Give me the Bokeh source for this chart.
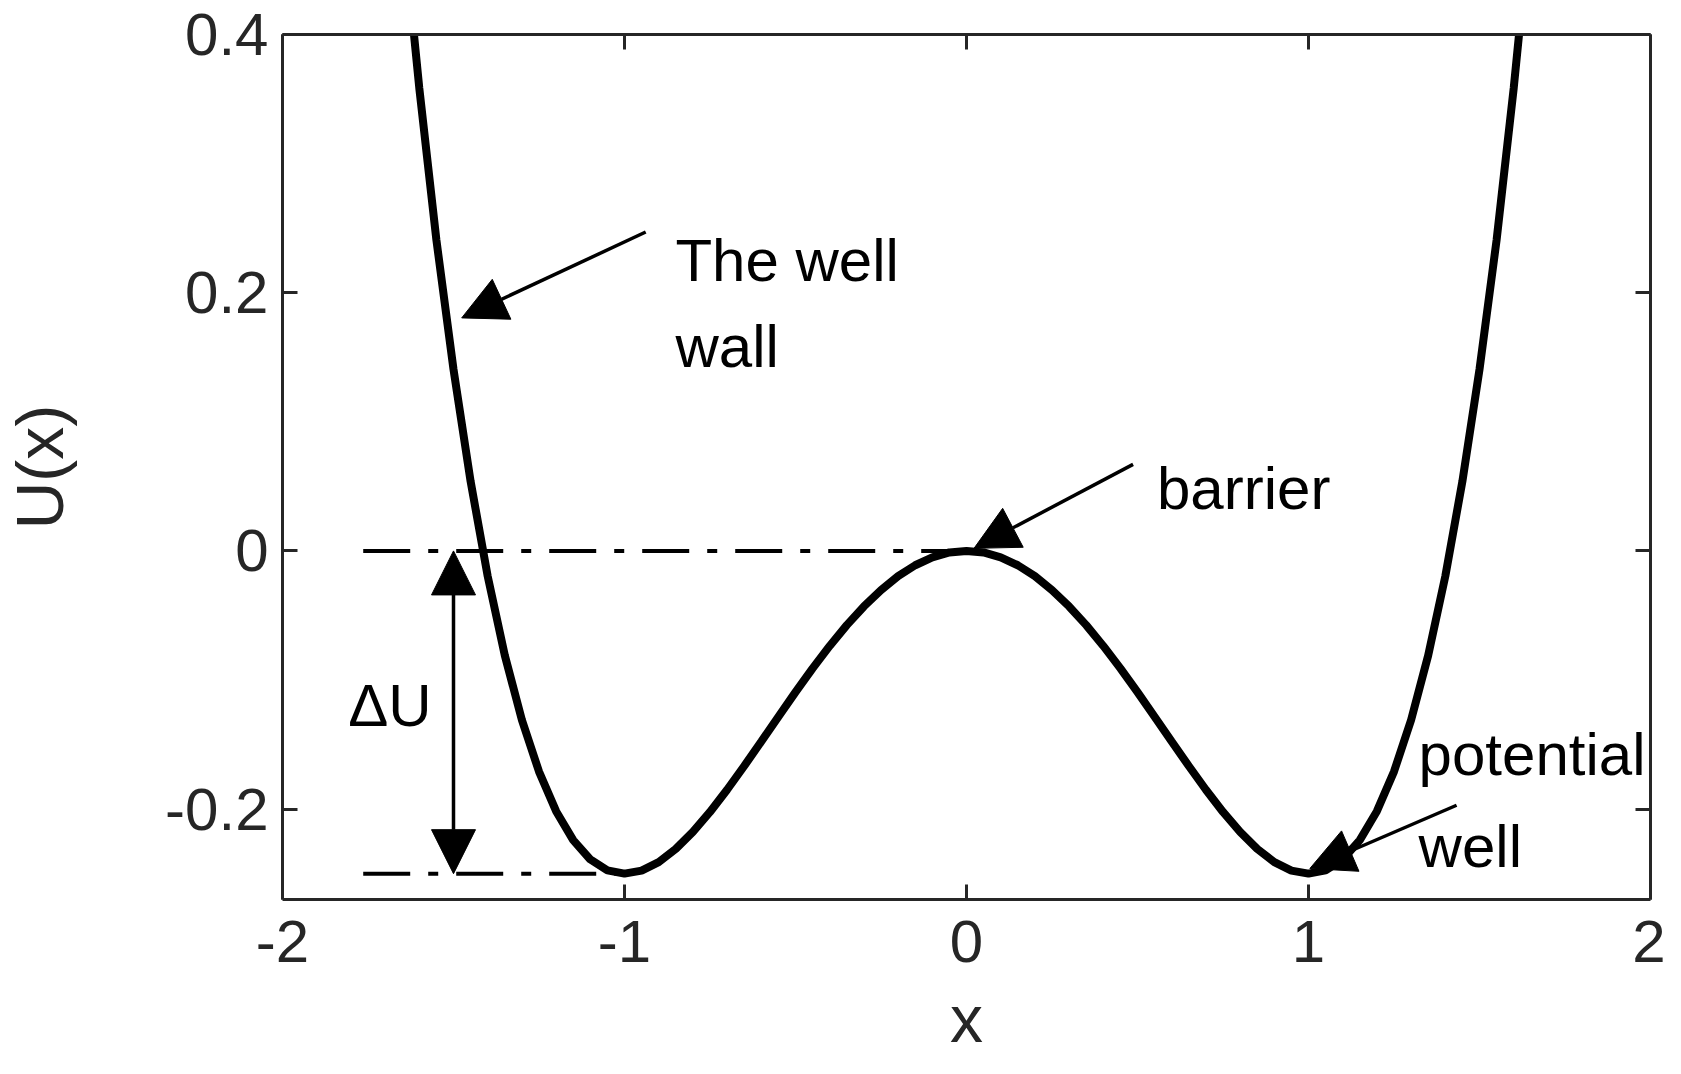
from bokeh.plotting import figure
from bokeh.models import Range1d, FixedTicker, LinearAxis, Arrow, NormalHead
from bokeh.core.properties import value
from bokeh.embed import file_html
from bokeh.resources import INLINE

# double-well potential U(x)
x_vals = [-1.65, -1.60, -1.55, -1.50, -1.45, -1.40, -1.35, -1.30, -1.25, -1.20,
          -1.15, -1.10, -1.05, -1.00, -0.95, -0.90, -0.85, -0.80, -0.75, -0.70,
          -0.65, -0.60, -0.55, -0.50, -0.45, -0.40, -0.35, -0.30, -0.25, -0.20,
          -0.15, -0.10, -0.05, 0.00, 0.05, 0.10, 0.15, 0.20, 0.25, 0.30,
          0.35, 0.40, 0.45, 0.50, 0.55, 0.60, 0.65, 0.70, 0.75, 0.80,
          0.85, 0.90, 0.95, 1.00, 1.05, 1.10, 1.15, 1.20, 1.25, 1.30,
          1.35, 1.40, 1.45, 1.50, 1.55, 1.60, 1.65]
u_vals = [0.4918, 0.3584, 0.2408, 0.1406, 0.0539, -0.0196, -0.0809, -0.1310, -0.1709, -0.2016,
          -0.2240, -0.2390, -0.2474, -0.2500, -0.2476, -0.2410, -0.2308, -0.2176, -0.2022, -0.1850,
          -0.1666, -0.1476, -0.1284, -0.1094, -0.0910, -0.0736, -0.0575, -0.0430, -0.0303, -0.0196,
          -0.0111, -0.0050, -0.0012, 0.0000, -0.0012, -0.0050, -0.0111, -0.0196, -0.0303, -0.0430,
          -0.0575, -0.0736, -0.0910, -0.1094, -0.1284, -0.1476, -0.1666, -0.1850, -0.2022, -0.2176,
          -0.2308, -0.2410, -0.2476, -0.2500, -0.2474, -0.2390, -0.2240, -0.2016, -0.1709, -0.1310,
          -0.0809, -0.0196, 0.0539, 0.1406, 0.2408, 0.3584, 0.4918]

x_ticks = [-2, -1, 0, 1, 2]
y_ticks = [-0.2, 0, 0.2, 0.4]
y_tick_labels = ["-0.2", "0", "0.2", "0.4"]

# dash-dot reference levels (barrier top and well bottom)
level_y = [0.0, -0.25]
level_x0 = [-1.764, -1.764]
level_x1 = [0.0, -1.0]

# annotation arrows: start (near text) -> tip (on curve)
arrow_x0 = [-0.938, 0.487, 1.433]
arrow_y0 = [0.247, 0.067, -0.197]
arrow_x1 = [-1.476, 0.022, 1.004]
arrow_y1 = [0.1805, 0.002, -0.246]

# delta U double arrow
du_x = -1.5
du_y0 = -0.25
du_y1 = 0.0

# annotation texts
note_text = ["The well", "wall", "barrier", "potential", "well", "ΔU"]
note_x = [-0.851, -0.851, 0.557, 1.322, 1.322, -1.808]
note_y = [0.225, 0.158, 0.048, -0.158, -0.229, -0.120]

AX = "#262626"
FONT = "Liberation Sans"

p = figure(width=1665, height=1058, output_backend="svg", toolbar_location=None,
           x_range=Range1d(-2, 2), y_range=Range1d(-0.27, 0.4),
           min_border_left=275, min_border_right=15, min_border_top=34, min_border_bottom=157)
p.grid.visible = False
p.outline_line_color = None
p.background_fill_color = "white"


def style_axis(ax):
    ax.axis_line_width = 3
    ax.axis_line_color = AX
    ax.major_tick_line_width = 3
    ax.major_tick_line_color = AX
    ax.major_tick_in = 15
    ax.major_tick_out = 0
    ax.minor_tick_line_color = None
    ax.major_label_text_font = FONT
    ax.major_label_text_font_size = "60px"
    ax.major_label_text_color = AX
    ax.axis_label_text_font = FONT
    ax.axis_label_text_font_size = "66px"
    ax.axis_label_text_font_style = "normal"
    ax.axis_label_text_color = AX


p.xaxis.ticker = FixedTicker(ticks=x_ticks)
p.yaxis.ticker = FixedTicker(ticks=y_ticks)
p.xaxis.major_label_overrides = {t: str(t) for t in x_ticks}
p.yaxis.major_label_overrides = dict(zip(y_ticks, y_tick_labels))
for ax in p.xaxis + p.yaxis:
    style_axis(ax)
p.xaxis.axis_label = "x"
p.yaxis.axis_label = "U(x)"
p.xaxis.major_label_standoff = 21
p.xaxis.axis_label_standoff = 17
p.yaxis.major_label_standoff = 14
p.yaxis.axis_label_standoff = 85

# box: top and right axes with ticks only
top = LinearAxis(ticker=FixedTicker(ticks=x_ticks))
right = LinearAxis(ticker=FixedTicker(ticks=y_ticks))
for ax, tk in ((top, x_ticks), (right, y_ticks)):
    style_axis(ax)
    ax.major_label_overrides = {t: "" for t in tk}
    ax.major_label_text_font_size = "0px"
    ax.major_label_standoff = 0
p.add_layout(top, "above")
p.add_layout(right, "right")

# dash-dot levels
for yv, xa, xb in zip(level_y, level_x0, level_x1):
    p.line([xa, xb], [yv, yv], line_color="black", line_width=4, line_dash="47 18 10 18")

# the potential curve
p.line(x_vals, u_vals, line_color="black", line_width=8)


def head():
    return NormalHead(size=44, fill_color="black", line_color="black", line_width=1)


# arrows
for xa, ya, xb, yb in zip(arrow_x0, arrow_y0, arrow_x1, arrow_y1):
    p.add_layout(Arrow(end=head(), x_start=xa, y_start=ya, x_end=xb, y_end=yb,
                       line_color="black", line_width=3.5))

p.add_layout(Arrow(start=head(), end=head(),
                   x_start=du_x, y_start=du_y0, x_end=du_x, y_end=du_y1,
                   line_color="black", line_width=3.5))

p.text(x=note_x, y=note_y, text=note_text, text_font=value(FONT), text_font_size="60px",
       text_color="black", text_align="left", text_baseline="alphabetic")

open("out.html", "w").write(file_html(p, INLINE))
